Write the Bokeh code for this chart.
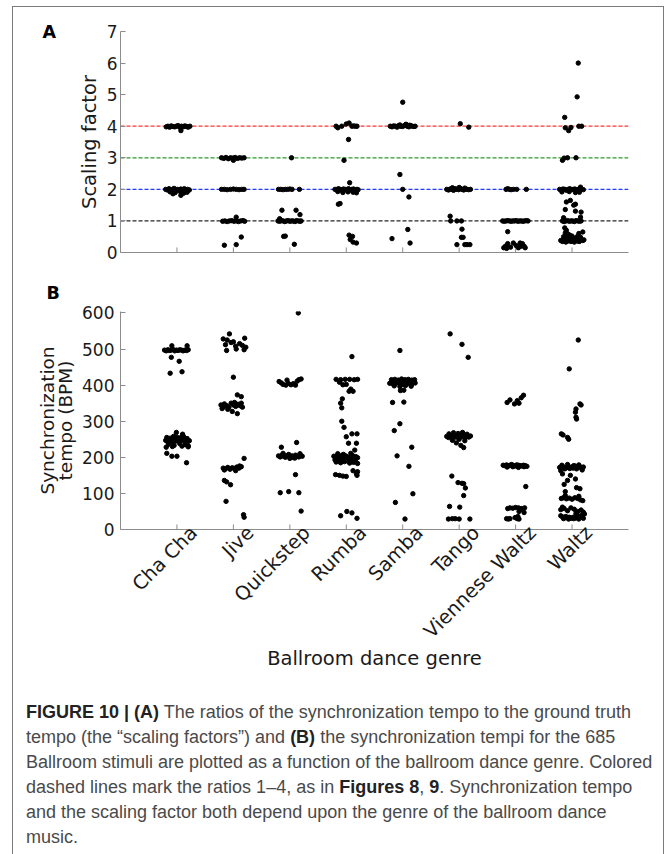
import math
from bokeh.plotting import figure
from bokeh.models import Span, FixedTicker, Div, Range1d, LinearAxis
from bokeh.layouts import column
from bokeh.embed import file_html
from bokeh.resources import INLINE

genres = ["Cha Cha", "Jive", "Quickstep", "Rumba", "Samba", "Tango", "Viennese Waltz", "Waltz"]
ratio_levels = [1, 2, 3, 4]
ratio_colors = ["#262626", "#2438ff", "#2a9a2a", "#ff3434"]
sf_ticks = [0, 1, 2, 3, 4, 5, 6, 7]
bpm_ticks = [0, 100, 200, 300, 400, 500, 600]

# ---------------- Panel A: scaling factors (jitter offset, value) ----------------
chacha_sf_dx = [-0.19, -0.16, -0.13, -0.1, -0.07, -0.04, -0.01, 0.02, 0.05, 0.08, 0.11, 0.14, 0.17, 0.2, 0.23, 0.07,
                -0.2, -0.17, -0.14, -0.11, -0.08, -0.05, -0.02, 0.01, 0.04, 0.07, 0.1, 0.13, 0.16, 0.19, 0.22,
                -0.12, -0.03, 0.06, 0.12, 0.18, 0.07, -0.07]
chacha_sf = [3.98, 4.0, 3.97, 4.01, 3.99, 3.98, 4.0, 4.02, 3.97, 4.0, 3.98, 4.01, 3.99, 3.97, 4.0, 3.86,
             2.0, 1.98, 2.02, 1.97, 2.0, 2.03, 1.96, 2.0, 1.98, 2.01, 1.97, 2.02, 1.99, 2.0, 1.98,
             1.92, 1.9, 1.93, 1.88, 1.91, 1.81, 1.86]

jive_sf_dx = [-0.21, -0.17, -0.13, -0.09, -0.05, -0.01, 0.03, 0.07, 0.11, 0.15, 0.19, 0.0,
              -0.21, -0.16, -0.11, -0.05, 0.0, 0.05, 0.1, 0.15, 0.19,
              -0.19, -0.15, -0.11, -0.07, -0.03, 0.01, 0.05, 0.09, 0.13, 0.17, 0.2, 0.05,
              -0.16, 0.05, 0.14]
jive_sf = [3.0, 2.98, 3.01, 2.97, 3.0, 2.99, 3.01, 2.98, 3.0, 2.99, 3.0, 2.92,
           2.0, 2.0, 1.99, 2.0, 2.01, 2.0, 1.99, 2.0, 2.0,
           0.99, 1.0, 0.98, 1.0, 1.01, 0.99, 1.0, 0.98, 1.0, 1.01, 0.99, 1.12,
           0.23, 0.25, 0.49]

quick_sf_dx = [0.03,
               -0.2, -0.16, -0.12, -0.08, -0.04, 0.0, 0.04, 0.17,
               -0.21, -0.18, -0.15, -0.12, -0.09, -0.06, -0.03, 0.0, 0.03, 0.06, 0.09, 0.12, 0.15, 0.18, 0.2, -0.18,
               -0.14, 0.11, 0.18, -0.11, -0.08, 0.08]
quick_sf = [3.0,
            2.0, 2.0, 1.99, 2.0, 2.0, 2.01, 2.0, 2.0,
            1.0, 0.99, 1.01, 1.0, 0.98, 1.0, 1.01, 0.99, 1.0, 1.0, 0.98, 1.01, 1.0, 0.99, 1.0, 1.07,
            1.34, 1.34, 1.2, 0.51, 0.52, 0.26]

rumba_sf_dx = [-0.18, -0.15, -0.08, 0.0, 0.05, 0.1, 0.13, 0.16, 0.19, 0.04, -0.04, 0.06,
               -0.2, -0.17, -0.14, -0.11, -0.08, -0.05, -0.02, 0.01, 0.04, 0.07, 0.1, 0.13, 0.16, 0.19, 0.21,
               -0.15, -0.06, 0.03, 0.12, 0.18, -0.14, -0.11,
               0.05, 0.11, 0.07, 0.12, 0.18]
rumba_sf = [4.0, 3.95, 4.0, 4.07, 4.1, 4.0, 4.01, 4.0, 4.0, 3.58, 2.92, 2.21,
            2.0, 1.98, 2.02, 2.0, 1.97, 2.01, 2.0, 1.99, 2.02, 1.98, 2.0, 2.01, 1.97, 2.0, 1.99,
            1.93, 1.9, 1.92, 1.91, 1.89, 1.53, 1.55,
            0.55, 0.51, 0.41, 0.33, 0.3]

samba_sf_dx = [-0.22, -0.19, -0.16, -0.13, -0.1, -0.07, -0.04, -0.01, 0.02, 0.05, 0.08, 0.11, 0.14, 0.17, 0.2, 0.22,
               -0.05, 0.06, 0.12,
               0.0, -0.05, 0.0, 0.11, 0.09, -0.19, 0.13]
samba_sf = [4.0, 3.98, 4.01, 4.0, 3.97, 4.02, 4.0, 3.99, 4.01, 4.05, 4.0, 3.98, 4.02, 4.0, 3.99, 4.0,
            4.04, 4.06, 4.03,
            4.76, 2.47, 2.0, 1.76, 0.73, 0.44, 0.3]

tango_sf_dx = [0.02, 0.17,
               -0.22, -0.19, -0.16, -0.13, -0.1, -0.07, -0.04, -0.01, 0.02, 0.05, 0.08, 0.11, 0.14, 0.17, 0.2,
               -0.12, 0.0, 0.1,
               -0.16, -0.15, -0.04, 0.04, 0.05, 0.04, 0.07, -0.04, 0.1, 0.14, 0.19]
tango_sf = [4.08, 3.97,
            2.0, 1.98, 2.01, 2.0, 1.97, 2.02, 2.0, 1.99, 2.03, 2.0, 1.98, 2.01, 2.0, 1.99, 2.0,
            2.05, 2.06, 2.04,
            1.15, 1.0, 1.0, 1.0, 0.74, 0.48, 0.48, 0.25, 0.25, 0.25, 0.25]

vwaltz_sf_dx = [-0.17, -0.14, -0.11, -0.08, -0.04, 0.02, 0.19,
                -0.23, -0.2, -0.17, -0.14, -0.11, -0.08, -0.05, -0.02, 0.01, 0.04, 0.07, 0.1, 0.13, 0.16, 0.19, 0.22,
                -0.14,
                -0.21, -0.18, -0.14, -0.09, -0.04, 0.01, 0.05, 0.08, 0.12, 0.15, 0.17, -0.16, 0.1]
vwaltz_sf = [2.0, 2.02, 2.0, 1.99, 2.0, 2.0, 2.0,
             1.0, 0.99, 1.0, 1.01, 1.0, 0.99, 1.0, 1.0, 1.01, 0.99, 1.0, 1.0, 0.99, 1.0, 1.01, 1.0,
             0.66,
             0.15, 0.2, 0.28, 0.17, 0.3, 0.22, 0.15, 0.3, 0.28, 0.2, 0.15, 0.13, 0.2]

waltz_sf_dx = [0.11, 0.09, -0.13, -0.12, -0.06, -0.02, 0.12, 0.17,
               -0.17, -0.14, -0.08, 0.07,
               -0.22, -0.19, -0.16, -0.13, -0.1, -0.07, -0.04, -0.01, 0.02, 0.05, 0.08, 0.11, 0.14, 0.17, 0.2,
               -0.18, -0.05, 0.06, 0.13, 0.15,
               -0.1, -0.03, 0.03, -0.12, 0.06, 0.16, -0.15, 0.15, 0.06,
               -0.17, -0.14, -0.11, -0.08, -0.05, -0.02, 0.01, 0.04, 0.07, 0.1, 0.13, 0.16,
               -0.2, -0.17, -0.14, -0.11, -0.08, -0.05, -0.02, 0.01, 0.04, 0.07, 0.1, 0.13, 0.16, 0.19, 0.21,
               -0.15, -0.1, -0.04, 0.03, 0.09, 0.15, -0.12, -0.07, 0.0, 0.12, -0.1, 0.19, -0.13]
waltz_sf = [6.0, 4.93, 4.28, 3.95, 3.86, 3.96, 4.0, 4.0,
            2.92, 2.99, 3.0, 3.0,
            2.0, 1.98, 2.01, 2.0, 1.97, 2.0, 2.02, 1.99, 2.0, 2.01, 1.98, 2.0, 2.03, 2.0, 1.99,
            1.92, 1.93, 1.9, 1.91, 2.07,
            1.6, 1.65, 1.5, 1.36, 1.31, 1.28, 1.1, 1.12, 1.53,
            1.0, 0.98, 1.0, 1.01, 0.99, 1.0, 1.0, 0.98, 1.01, 1.0, 0.99, 1.0,
            0.38, 0.35, 0.4, 0.33, 0.36, 0.42, 0.35, 0.38, 0.33, 0.4, 0.36, 0.35, 0.42, 0.38, 0.4,
            0.5, 0.47, 0.55, 0.45, 0.5, 0.48, 0.62, 0.58, 0.52, 0.6, 0.7, 0.65, 0.78]

# ---------------- Panel B: synchronization tempo in BPM (jitter offset, value) ----------------
chacha_bpm_dx = [-0.22, -0.19, -0.16, -0.13, -0.1, -0.07, -0.04, -0.01, 0.02, 0.05, 0.08, 0.11, 0.14, 0.17, 0.2,
                 -0.09, 0.18, -0.1, 0.04, -0.12, 0.09,
                 -0.2, -0.17, -0.14, -0.11, -0.08, -0.05, -0.02, 0.01, 0.04, 0.07, 0.1, 0.13, 0.16, 0.19, 0.22,
                 -0.18, -0.12, -0.06, 0.0, 0.06, 0.12, 0.18, -0.15, -0.05, 0.05, 0.15, 0.2, -0.19, -0.08, 0.09, 0.2,
                 -0.01, 0.1, -0.18, -0.09, 0.0, 0.17]
chacha_bpm = [497, 495, 498, 496, 497, 499, 495, 497, 496, 498, 497, 495, 497, 496, 498,
              509, 509, 477, 466, 433, 437,
              247, 244, 249, 246, 243, 250, 245, 248, 244, 247, 251, 245, 248, 244, 246,
              255, 253, 258, 256, 254, 257, 252, 236, 233, 238, 235, 232, 228, 230, 231, 229,
              269, 264, 211, 203, 203, 185]

jive_bpm_dx = [-0.07, -0.18, -0.11, 0.0, 0.11, 0.2, -0.14, 0.04, 0.16, 0.22, -0.12, 0.05, 0.19, -0.04,
               0.0,
               -0.22, -0.19, -0.16, -0.12, -0.08, -0.04, 0.0, 0.04, 0.08, 0.12, 0.16, -0.2, -0.1, 0.02, 0.14,
               0.07, 0.14, -0.02, 0.07, -0.18,
               -0.18, -0.14, -0.1, -0.06, -0.02, 0.02, 0.06, 0.1, 0.14, -0.16, 0.04, 0.11, 0.19,
               -0.16, -0.12, -0.05, -0.13, 0.18, 0.19]
jive_bpm = [542, 528, 525, 520, 515, 530, 512, 508, 510, 505, 496, 500, 498, 518,
            422,
            345, 340, 348, 343, 338, 350, 345, 341, 347, 343, 339, 335, 333, 352, 350,
            373, 368, 327, 321, 339,
            170, 168, 172, 167, 171, 169, 173, 170, 174, 165, 163, 176, 197,
            136, 132, 124, 78, 41, 34]

quick_bpm_dx = [0.15,
                -0.19, -0.15, -0.12, -0.07, -0.03, 0.02, 0.06, 0.1, 0.16, 0.2, -0.05, 0.13,
                -0.2, -0.17, -0.14, -0.11, -0.08, -0.05, -0.02, 0.01, 0.04, 0.07, 0.1, 0.13, 0.16, 0.19, 0.22,
                -0.12, 0.0, 0.09, 0.18, -0.15, 0.12,
                0.1, -0.17, -0.02, 0.16, 0.2]
quick_bpm = [600,
             410, 406, 402, 400, 405, 401, 404, 400, 415, 417, 414, 411,
             204, 201, 206, 203, 200, 205, 208, 202, 204, 199, 206, 203, 201, 205, 203,
             211, 197, 198, 210, 228, 241,
             152, 102, 105, 102, 51]

rumba_bpm_dx = [0.1,
                -0.18, -0.1, -0.02, 0.06, 0.14, 0.2, -0.12, -0.06, 0.0, 0.08, 0.12, 0.05, -0.07, -0.1, -0.08,
                -0.08, -0.04, 0.0, 0.1, 0.19, 0.04, 0.18, 0.15,
                -0.22, -0.19, -0.16, -0.13, -0.1, -0.07, -0.04, -0.01, 0.02, 0.05, 0.08, 0.11, 0.14, 0.17, 0.2,
                -0.2, -0.14, -0.08, -0.02, 0.04, 0.1, 0.16, -0.18, -0.1, -0.03, 0.06, 0.13, 0.2, -0.15, -0.05, 0.08,
                -0.19, -0.12, -0.06, 0.0, 0.12, 0.18, 0.19, 0.2,
                -0.1, 0.01, 0.1, 0.19]
rumba_bpm = [479,
             416, 415, 416, 416, 415, 416, 408, 401, 402, 389, 383, 383, 362, 350, 337,
             300, 283, 257, 265, 265, 239, 239, 220,
             203, 200, 205, 198, 202, 206, 199, 204, 201, 197, 203, 205, 200, 202, 199,
             193, 190, 195, 192, 189, 194, 191, 187, 185, 188, 184, 186, 183, 210, 208, 211,
             152, 150, 148, 147, 163, 155, 150, 160,
             38, 50, 46, 31]

samba_bpm_dx = [-0.05,
                -0.23, -0.2, -0.17, -0.14, -0.11, -0.08, -0.05, -0.02, 0.01, 0.04, 0.07, 0.1, 0.13, 0.16, 0.19, 0.22,
                -0.2, -0.14, -0.08, -0.02, 0.04, 0.1, 0.16, 0.21, -0.15, -0.05, 0.05, 0.15, -0.04, 0.02,
                -0.18, 0.02, -0.05, -0.15, 0.16, -0.1, 0.11, 0.18, -0.13, 0.04]
samba_bpm = [496,
             405, 408, 403, 410, 406, 412, 404, 409, 402, 407, 411, 405, 408, 403, 410, 406,
             415, 416, 414, 417, 415, 416, 414, 415, 398, 396, 399, 397, 385, 386,
             352, 353, 293, 274, 228, 204, 175, 99, 75, 29]

tango_bpm_dx = [-0.16, 0.05, 0.16,
                -0.22, -0.19, -0.16, -0.13, -0.1, -0.07, -0.04, -0.01, 0.02, 0.05, 0.08, 0.11, 0.14, 0.17, 0.2,
                -0.18, -0.1, -0.02, 0.06, 0.14, -0.12, 0.0, 0.1, -0.05, 0.03, 0.08,
                -0.13, -0.02, 0.05, 0.08, 0.11, 0.08, -0.17, 0.01, -0.19, -0.12, -0.07, 0.0, 0.19]
tango_bpm = [542, 513, 477,
             258, 255, 260, 257, 262, 256, 259, 254, 261, 257, 263, 255, 258, 256, 259,
             265, 268, 266, 269, 264, 247, 250, 246, 240, 233, 227,
             148, 130, 128, 127, 115, 94, 64, 62, 29, 30, 30, 29, 29]

vwaltz_bpm_dx = [-0.15, -0.1, -0.02, 0.06, 0.1, 0.14, 0.03,
                 -0.22, -0.19, -0.16, -0.13, -0.1, -0.07, -0.04, -0.01, 0.02, 0.05, 0.08, 0.11, 0.14, 0.17, 0.2,
                 -0.15, -0.05, 0.05, 0.15,
                 0.18,
                 -0.14, -0.1, -0.05, 0.0, 0.05, 0.1, 0.13, 0.15, 0.06, 0.16,
                 -0.16, -0.13, -0.1, -0.01, 0.03, 0.06, 0.04]
vwaltz_bpm = [352, 359, 348, 350, 365, 372, 357,
              178, 177, 179, 176, 178, 180, 177, 176, 179, 178, 177, 176, 178, 177, 175,
              173, 174, 172, 174,
              119,
              58, 60, 59, 61, 60, 58, 55, 47, 50, 60,
              30, 29, 30, 33, 30, 29, 36]

waltz_bpm_dx = [0.11, -0.05,
                0.14, 0.16, 0.07, 0.06, 0.07, 0.08,
                -0.19, -0.16, -0.08, -0.06,
                -0.22, -0.19, -0.16, -0.13, -0.1, -0.07, -0.04, -0.01, 0.02, 0.05, 0.08, 0.11, 0.14, 0.17, 0.2,
                -0.18, -0.08, 0.03, 0.12, -0.2, 0.18,
                -0.17, -0.03, -0.08, 0.06, -0.14, 0.08, 0.14, -0.12,
                -0.19, -0.15, -0.1, -0.05, 0.0, 0.05, 0.1, 0.15, 0.19, -0.12, 0.12,
                -0.2, -0.14, -0.08, -0.02, 0.04, 0.1, 0.16, 0.2, -0.17, 0.07,
                -0.2, -0.17, -0.14, -0.11, -0.08, -0.05, -0.02, 0.01, 0.04, 0.07, 0.1, 0.13, 0.16, 0.19, 0.22,
                -0.15, -0.06, 0.03, 0.12, 0.2]
waltz_bpm = [525, 445,
             348, 345, 334, 325, 311, 306,
             265, 262, 255, 250,
             172, 170, 174, 168, 171, 175, 169, 173, 170, 176, 168, 172, 174, 170, 173,
             178, 180, 177, 179, 163, 165,
             154, 150, 136, 140, 125, 116, 113, 105,
             86, 88, 85, 87, 84, 88, 86, 82, 80, 94, 92,
             55, 58, 52, 60, 56, 50, 54, 48, 62, 45,
             38, 35, 33, 36, 32, 34, 31, 33, 35, 32, 34, 36, 38, 40, 43,
             30, 29, 30, 29, 31]

sf_dx = [chacha_sf_dx, jive_sf_dx, quick_sf_dx, rumba_sf_dx, samba_sf_dx, tango_sf_dx, vwaltz_sf_dx, waltz_sf_dx]
sf_vals = [chacha_sf, jive_sf, quick_sf, rumba_sf, samba_sf, tango_sf, vwaltz_sf, waltz_sf]
bpm_dx = [chacha_bpm_dx, jive_bpm_dx, quick_bpm_dx, rumba_bpm_dx, samba_bpm_dx, tango_bpm_dx, vwaltz_bpm_dx, waltz_bpm_dx]
bpm_vals = [chacha_bpm, jive_bpm, quick_bpm, rumba_bpm, samba_bpm, tango_bpm, vwaltz_bpm, waltz_bpm]


def flatten(dxs, vals):
    xs, ys = [], []
    for i, (d, v) in enumerate(zip(dxs, vals)):
        n = min(len(d), len(v))
        xs += [i + 1 + dd for dd in d[:n]]
        ys += list(v[:n])
    return xs, ys


AX = "#8c8c8c"
TXT = "#1a1a1a"
FONT = "DejaVu Sans"
positions = list(range(1, len(genres) + 1))


def style(p):
    p.xgrid.grid_line_color = None
    p.ygrid.grid_line_color = None
    p.outline_line_color = None
    p.background_fill_color = "white"
    p.border_fill_color = "white"
    for ax in p.axis:
        ax.axis_line_color = AX
        ax.axis_line_width = 1
        ax.major_tick_line_color = AX
        ax.major_tick_in = 5
        ax.major_tick_out = 0
        ax.minor_tick_line_color = None
        ax.major_label_text_font = FONT
        ax.major_label_text_color = TXT
        ax.axis_label_text_font = FONT
        ax.axis_label_text_font_style = "normal"
        ax.axis_label_text_color = TXT


def panel_title(p, text, offset, standoff):
    p.title.text = text
    p.title.align = "left"
    p.title.offset = offset
    p.title.standoff = standoff
    p.title.vertical_align = "bottom"
    p.title.text_font = FONT
    p.title.text_font_size = "17.5px"
    p.title.text_font_style = "bold"
    p.title.text_color = "black"


# ---------------- Figure A ----------------
pA = figure(width=650, height=262, x_range=Range1d(0, 9), y_range=Range1d(0, 7),
            x_axis_location=None, title="A",
            output_backend="svg", toolbar_location=None,
            min_border_left=107, min_border_right=24, min_border_top=24, min_border_bottom=17)
pA.add_layout(LinearAxis(ticker=FixedTicker(ticks=[])), "below")
style(pA)
pA.yaxis.ticker = FixedTicker(ticks=sf_ticks)
pA.yaxis.major_label_text_font_size = "17px"
pA.yaxis.major_label_standoff = 3
pA.yaxis.axis_label = "Scaling factor"
pA.yaxis.axis_label_text_font_size = "19.5px"
pA.yaxis.axis_label_standoff = 3
panel_title(pA, "A", -78, -20)

for lv, col in zip(ratio_levels, ratio_colors):
    pA.add_layout(Span(location=lv, dimension="width", line_color=col, line_dash="4 2",
                       line_width=1.3, level="underlay"))

# category tick marks (pointing into the plot)
pA.segment(x0=positions, y0=[0] * len(positions), x1=positions, y1=[0.16] * len(positions),
           line_color=AX, line_width=1)

xa, ya = flatten(sf_dx, sf_vals)
pA.scatter(xa, ya, size=4.4, marker="circle", fill_color="black", line_color="black")

# ---------------- Figure B ----------------
pB = figure(width=650, height=431, x_range=Range1d(0, 9), y_range=Range1d(0, 604),
            x_axis_location=None, title="B",
            output_backend="svg", toolbar_location=None,
            min_border_left=103, min_border_right=35, min_border_top=42, min_border_bottom=171)
pB.extra_x_ranges = {"lab": Range1d(-0.3, 8.7)}
lab_axis = LinearAxis(x_range_name="lab", ticker=FixedTicker(ticks=positions))
pB.add_layout(lab_axis, "below")
style(pB)
lab_axis.major_label_overrides = {i + 1: g for i, g in enumerate(genres)}
lab_axis.major_tick_in = 0
lab_axis.major_tick_out = 0
lab_axis.major_tick_line_color = None
lab_axis.major_label_orientation = math.pi / 4
lab_axis.major_label_text_font_size = "19.5px"
lab_axis.major_label_standoff = 0
lab_axis.axis_label = "Ballroom dance genre"
lab_axis.axis_label_text_font_size = "19.5px"
lab_axis.axis_label_standoff = -7
pB.yaxis.ticker = FixedTicker(ticks=bpm_ticks)
pB.yaxis.major_label_text_font_size = "17px"
pB.yaxis.major_label_standoff = 6
pB.yaxis.axis_label = "Synchronization\ntempo (BPM)"
pB.yaxis.axis_label_text_font_size = "18.5px"
pB.yaxis.axis_label_text_line_height = 0.85
pB.yaxis.axis_label_standoff = 3
panel_title(pB, "B", -74, 18)

pB.segment(x0=positions, y0=[0] * len(positions), x1=positions, y1=[14] * len(positions),
           line_color=AX, line_width=1)

xb, yb = flatten(bpm_dx, bpm_vals)
pB.scatter(xb, yb, size=4.4, marker="circle", fill_color="black", line_color="black")

caption_html = (
    '<div style="font-family:\'Liberation Sans\',Arial,sans-serif;font-size:18px;line-height:25px;'
    'color:#4a4a4a;white-space:nowrap;padding-left:13px;">'
    '<b style="color:#222">FIGURE 10 | (A)</b> The ratios of the synchronization tempo to the ground truth<br>'
    'tempo (the \u201cscaling factors\u201d) and <b style="color:#222">(B)</b> the synchronization tempi for the 685<br>'
    'Ballroom stimuli are plotted as a function of the ballroom dance genre. Colored<br>'
    'dashed lines mark the ratios 1\u20134, as in <b style="color:#222">Figures 8</b>, '
    '<b style="color:#222">9</b>. Synchronization tempo<br>'
    'and the scaling factor both depend upon the genre of the ballroom dance<br>'
    'music.</div>'
)
cap = Div(text=caption_html, width=650, height=154, margin=(0, 0, 0, 0))

layout = column(pA, pB, cap, margin=(6, 0, 0, 12),
                styles={"border-top": "1px solid #7a7a7a", "border-left": "1px solid #7a7a7a",
                        "border-right": "1px solid #7a7a7a", "background": "white"})

open("out.html", "w").write(file_html(layout, INLINE))
